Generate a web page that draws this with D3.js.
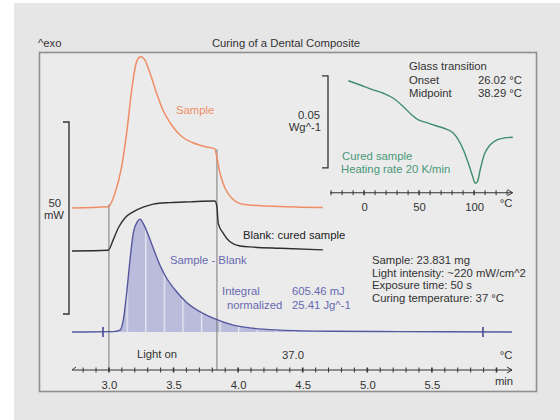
<!DOCTYPE html>
<html><head><meta charset="utf-8">
<script src="https://cdn.jsdelivr.net/npm/d3@7"></script>
<style>body{margin:0;background:#fff}svg{display:block;font-family:"Liberation Sans",Arial,sans-serif}</style>
</head><body><svg id="c" width="560" height="420"></svg>
<script>
// ---- data (time in min, heat flow in mW) ----
const sampleT  = [2.714, 2.995, 3.046, 3.098, 3.137, 3.176, 3.214, 3.245, 3.279, 3.317, 3.369, 3.418, 3.485, 3.563, 3.650, 3.756, 3.820, 3.834, 3.859, 3.898, 3.950, 4.037, 4.221, 4.478, 4.656];
const sampleMW = [0, 0.3, 3.8, 10.7, 19.5, 30.7, 38.1, 39.4, 38.5, 35.2, 29.9, 25.5, 21.6, 18.6, 17.0, 15.9, 15.4, 13.4, 9.1, 5.2, 2.6, 1.0, 0.5, 0.2, 0.1];
const blankT   = [2.714, 2.995, 3.033, 3.072, 3.124, 3.188, 3.265, 3.343, 3.472, 3.627, 3.820, 3.836, 3.846, 3.885, 3.937, 4.014, 4.117, 4.324, 4.656];
const blankMW  = [0, 0.2, 2.9, 6.0, 8.6, 10.2, 11.4, 12.2, 12.6, 12.8, 13.0, 11.5, 7.2, 4.6, 2.4, 1.3, 1.0, 0.7, 0.3];
const diffT    = [2.714, 3.033, 3.085, 3.111, 3.137, 3.163, 3.188, 3.219, 3.240, 3.265, 3.304, 3.343, 3.395, 3.447, 3.524, 3.595, 3.704, 3.807, 3.962, 4.117, 4.324, 4.71, 5.25, 6.12];
const diffMW   = [0, 0.1, 0.5, 3.1, 10.1, 18.8, 25.7, 28.7, 29.4, 28.3, 25.3, 21.8, 17.4, 14.0, 10.5, 7.9, 5.3, 3.6, 1.8, 0.96, 0.5, 0.2, 0.1, 0];
const integralLimits = [2.954, 5.895];
const lightOn = 3.0, lightOff = 3.836;
// inset: glass transition (temperature in °C, heat flow in W/g, shifted)
const glassT = [-14.3, -3.6, 7.0, 17.5, 26.6, 35.7, 43.4, 49.4, 57.0, 66.1, 75.2, 81.2, 85.7, 90.3, 94.8, 98.8, 100.9, 103.0, 105.5, 109.1, 114.5, 120.6, 128.2, 135.2];
const glassW = [-0.0004, -0.0027, -0.0051, -0.0072, -0.0099, -0.0145, -0.0190, -0.0217, -0.0232, -0.0250, -0.0268, -0.0290, -0.0326, -0.0380, -0.0453, -0.0526, -0.0561, -0.0553, -0.0489, -0.0408, -0.0353, -0.0326, -0.0314, -0.0311];
// tick labels
const timeTicks = [3.0, 3.5, 4.0, 4.5, 5.0, 5.5];
const tempTicks = [0, 50, 100];
const infoLines = ["Sample: 23.831 mg", "Light intensity: ~220 mW/cm^2", "Exposure time: 50 s", "Curing temperature: 37 °C"];

// ---- drawing ----
const svg = d3.select("#c");
const FS = 11.3, TXT = "#333";
svg.append("rect").attr("x",14).attr("y",3).attr("width",546).attr("height",417).attr("fill","#e6e6e6");
svg.append("rect").attr("x",39.5).attr("y",52.5).attr("width",497).attr("height",339)
   .attr("fill","#ebebeb").attr("stroke","#8f8f8f").attr("stroke-width",1.6);

const x = d3.scaleLinear().domain([2.714, 6.12]).range([72, 512]);
const y = d3.scaleLinear().domain([-15.625, 72.92]).range([392, 52]);
const SAMPLE_OFF = 32.3, BLANK_OFF = 21.1, BAR_BASE = 4.69;

const zip = (a,b)=>a.map((v,i)=>[v,b[i]]);
const line = off => d3.line().x(d=>x(d[0])).y(d=>y(d[1]+off)).curve(d3.curveMonotoneX);

const defs = svg.append("defs");
const pat = defs.append("pattern").attr("id","stripes").attr("patternUnits","userSpaceOnUse")
  .attr("x",126.5).attr("y",0).attr("width",18.6).attr("height",10);
pat.append("rect").attr("width",18.6).attr("height",10).attr("fill","#babcdb");
pat.append("rect").attr("width",1.3).attr("height",10).attr("fill","#e9e9f1");
defs.append("clipPath").attr("id","intclip").append("rect")
  .attr("x",x(integralLimits[0])).attr("y",0).attr("width",x(integralLimits[1])-x(integralLimits[0])).attr("height",420);

// integral fill
const diffPts = zip(diffT, diffMW);
svg.append("path").datum(diffPts.filter(d=>d[0]>=3.03))
  .attr("d", d3.area().x(d=>x(d[0])).y0(y(0)).y1(d=>y(d[1])).curve(d3.curveMonotoneX))
  .attr("fill","url(#stripes)").attr("clip-path","url(#intclip)");

// light on / off markers
svg.append("line").attr("x1",x(lightOn)).attr("x2",x(lightOn)).attr("y1",y(SAMPLE_OFF+1)).attr("y2",370)
   .attr("stroke","#7a7a7a").attr("stroke-width",1);
svg.append("line").attr("x1",x(lightOff)).attr("x2",x(lightOff)).attr("y1",y(SAMPLE_OFF+15.3)).attr("y2",370)
   .attr("stroke","#7a7a7a").attr("stroke-width",1);

// curves
svg.append("path").datum(zip(sampleT, sampleMW)).attr("d", line(SAMPLE_OFF))
   .attr("fill","none").attr("stroke","#ef8d66").attr("stroke-width",1.5);
svg.append("path").datum(zip(blankT, blankMW)).attr("d", line(BLANK_OFF))
   .attr("fill","none").attr("stroke","#2e2e2e").attr("stroke-width",1.4);
svg.append("path").datum(diffPts).attr("d", line(0))
   .attr("fill","none").attr("stroke","#56589e").attr("stroke-width",1.4);
integralLimits.forEach(t=>{
  svg.append("line").attr("x1",x(t)).attr("x2",x(t)).attr("y1",y(0)-5).attr("y2",y(0)+5)
     .attr("stroke","#56589e").attr("stroke-width",1.8);
});

// scale bar 50 mW
svg.append("path").attr("d",`M63,${y(BAR_BASE+50)}H69V${y(BAR_BASE)}H63`)
   .attr("fill","none").attr("stroke","#333").attr("stroke-width",1.4);
svg.append("text").attr("x",61).attr("y",207).attr("text-anchor","end").attr("font-size",FS).attr("fill",TXT).text("50");
svg.append("text").attr("x",64).attr("y",219).attr("text-anchor","end").attr("font-size",FS).attr("fill",TXT).text("mW");

// time axis
const AX_Y = 370;
svg.append("line").attr("x1",72).attr("x2",x.range()[1]).attr("y1",AX_Y).attr("y2",AX_Y).attr("stroke","#333").attr("stroke-width",1.2);
svg.append("path").attr("d",`M${x.range()[1]-5},${AX_Y-3}L${x.range()[1]},${AX_Y}L${x.range()[1]-5},${AX_Y+3}`).attr("fill","none").attr("stroke","#333");
svg.append("path").attr("d",`M76,${AX_Y-3}L72,${AX_Y}`).attr("fill","none").attr("stroke","#333");
const minor = d3.range(28, 61).map(v=>v/10);
svg.append("g").selectAll("line").data(minor).join("line")
  .attr("x1",d=>x(d)).attr("x2",d=>x(d)).attr("y1",AX_Y-2.5).attr("y2",AX_Y+2.5)
  .attr("stroke","#333").attr("stroke-width",d=>Math.abs(d*2-Math.round(d*2))<1e-6?1.6:1);
const axG = svg.append("g").attr("transform",`translate(0,${AX_Y})`)
  .call(d3.axisBottom(x).tickValues(timeTicks).tickFormat(d3.format(".1f")).tickSize(0).tickPadding(11));
axG.select(".domain").remove();
axG.selectAll("text").attr("font-size",FS).attr("fill",TXT).attr("font-family","Liberation Sans, Arial, sans-serif");
svg.append("text").attr("x",504).attr("y",385).attr("text-anchor","middle").attr("font-size",FS).attr("fill",TXT).text("min");
svg.append("text").attr("x",506).attr("y",359).attr("text-anchor","middle").attr("font-size",FS).attr("fill",TXT).text("°C");
svg.append("text").attr("x",157).attr("y",358).attr("text-anchor","middle").attr("font-size",FS).attr("fill",TXT).text("Light on");
svg.append("text").attr("x",293).attr("y",359).attr("text-anchor","middle").attr("font-size",FS).attr("fill",TXT).text("37.0");

// labels
svg.append("text").attr("x",38).attr("y",47).attr("font-size",FS).attr("fill",TXT).text("^exo");
svg.append("text").attr("x",286).attr("y",47).attr("text-anchor","middle").attr("font-size",FS).attr("fill",TXT).text("Curing of a Dental Composite");
svg.append("text").attr("x",176).attr("y",114).attr("font-size",FS).attr("fill","#ef8d66").text("Sample");
svg.append("text").attr("x",243).attr("y",239).attr("font-size",FS).attr("fill","#222").text("Blank: cured sample");
svg.append("text").attr("x",170).attr("y",264).attr("font-size",FS).attr("fill","#6669b0").text("Sample - Blank");
svg.append("text").attr("x",222).attr("y",295).attr("font-size",FS).attr("fill","#6669b0").text("Integral");
svg.append("text").attr("x",227).attr("y",309).attr("font-size",FS).attr("fill","#6669b0").text("normalized");
svg.append("text").attr("x",292).attr("y",295).attr("font-size",FS).attr("fill","#6669b0").text("605.46 mJ");
svg.append("text").attr("x",292).attr("y",309).attr("font-size",FS).attr("fill","#6669b0").text("25.41 Jg^-1");
svg.append("g").selectAll("text").data(infoLines).join("text")
  .attr("x",372).attr("y",(d,i)=>264+i*12.7).attr("font-size",FS).attr("fill",TXT).text(d=>d);

// ---- inset ----
const xi = d3.scaleLinear().domain([-31, 135]).range([330, 512.6]);
const yi = d3.scaleLinear().domain([-0.06, 0]).range([190.4, 80]);
const IN_Y = 192.7;
svg.append("path").datum(zip(glassT, glassW))
  .attr("d", d3.line().x(d=>xi(d[0])).y(d=>yi(d[1])).curve(d3.curveMonotoneX))
  .attr("fill","none").attr("stroke","#3f8d6d").attr("stroke-width",1.4);
svg.append("line").attr("x1",xi.range()[0]).attr("x2",xi.range()[1]).attr("y1",IN_Y).attr("y2",IN_Y).attr("stroke","#333").attr("stroke-width",1.1);
svg.append("path").attr("d",`M${xi.range()[1]-5},${IN_Y-3}L${xi.range()[1]},${IN_Y}L${xi.range()[1]-5},${IN_Y+3}`).attr("fill","none").attr("stroke","#333");
svg.append("g").selectAll("line").data(d3.range(-30, 131, 10)).join("line")
  .attr("x1",d=>xi(d)).attr("x2",d=>xi(d)).attr("y1",IN_Y-2.5).attr("y2",IN_Y+2.5).attr("stroke","#333").attr("stroke-width",d=>d%50===0?1.5:1);
const inAx = svg.append("g").attr("transform",`translate(0,${IN_Y})`)
  .call(d3.axisBottom(xi).tickValues(tempTicks).tickSize(0).tickPadding(10));
inAx.select(".domain").remove();
inAx.selectAll("text").attr("font-size",FS).attr("fill",TXT).attr("font-family","Liberation Sans, Arial, sans-serif");
svg.append("text").attr("x",506).attr("y",207).attr("text-anchor","middle").attr("font-size",FS).attr("fill",TXT).text("°C");
svg.append("path").attr("d",`M322,${yi(0.0022)}H328V${yi(-0.0478)}H322`).attr("fill","none").attr("stroke","#333").attr("stroke-width",1.3);
svg.append("text").attr("x",320).attr("y",119).attr("text-anchor","end").attr("font-size",FS).attr("fill",TXT).text("0.05");
svg.append("text").attr("x",321).attr("y",131).attr("text-anchor","end").attr("font-size",FS).attr("fill",TXT).text("Wg^-1");
svg.append("text").attr("x",409).attr("y",70).attr("font-size",FS).attr("fill",TXT).text("Glass transition");
svg.append("text").attr("x",409).attr("y",84).attr("font-size",FS).attr("fill",TXT).text("Onset");
svg.append("text").attr("x",522).attr("y",84).attr("text-anchor","end").attr("font-size",FS).attr("fill",TXT).text("26.02 °C");
svg.append("text").attr("x",409).attr("y",97).attr("font-size",FS).attr("fill",TXT).text("Midpoint");
svg.append("text").attr("x",522).attr("y",97).attr("text-anchor","end").attr("font-size",FS).attr("fill",TXT).text("38.29 °C");
svg.append("text").attr("x",342).attr("y",160).attr("font-size",FS).attr("fill","#4a9878").text("Cured sample");
svg.append("text").attr("x",341).attr("y",173).attr("font-size",FS).attr("fill","#4a9878").text("Heating rate 20 K/min");
</script></body></html>
